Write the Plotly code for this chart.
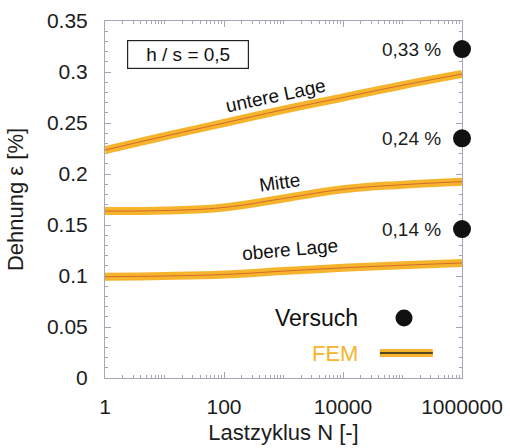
import plotly.graph_objects as go

# Data
cycles = [1, 10, 100, 1000, 10000, 100000, 1000000]
fem_untere = [0.2235, 0.237, 0.250, 0.263, 0.275, 0.287, 0.298]
fem_mitte = [0.1637, 0.1642, 0.1672, 0.1760, 0.1850, 0.1895, 0.1925]
fem_obere = [0.0993, 0.1000, 0.1015, 0.1048, 0.1080, 0.1105, 0.1128]
versuch_x = [1000000, 1000000, 1000000]
versuch_y = [0.3225, 0.235, 0.146]
versuch_labels = ["0,33 %", "0,24 %", "0,14 %"]
xtick_vals = [1, 100, 10000, 1000000]
xtick_text = ["1", "100", "10000", "1000000"]

ORANGE = "#F6B42C"
INNER = "#d26a2c"
FRAME = "#aaa4b8"
TXT = "#1c1c1c"
FONT = "Liberation Sans, Arial, sans-serif"

fig = go.Figure()
for ys in (fem_untere, fem_mitte, fem_obere):
    fig.add_trace(go.Scatter(x=cycles, y=ys, mode="lines",
                             line=dict(color=ORANGE, width=8, shape="spline", smoothing=1.2),
                             showlegend=False, hoverinfo="skip"))
    fig.add_trace(go.Scatter(x=cycles, y=ys, mode="lines",
                             line=dict(color=INNER, width=1, shape="spline", smoothing=1.2),
                             showlegend=False, hoverinfo="skip"))

fig.add_trace(go.Scatter(x=versuch_x, y=versuch_y, mode="markers",
                         marker=dict(color="#111111", size=18), cliponaxis=False, showlegend=False))

# Custom legend
fig.add_trace(go.Scatter(x=[106000], y=[0.0588], mode="markers",
                         marker=dict(color="#111111", size=17), showlegend=False))
fig.add_trace(go.Scatter(x=[41700, 324000], y=[0.0245, 0.0245], mode="lines",
                         line=dict(color=ORANGE, width=8), showlegend=False))
fig.add_trace(go.Scatter(x=[41700, 324000], y=[0.0245, 0.0245], mode="lines",
                         line=dict(color="#222", width=1.5), showlegend=False))
fig.add_annotation(x=4.29, y=0.0588, xref="x", yref="y", text="Versuch", showarrow=False,
                   xanchor="right", font=dict(size=23, color="#111", family=FONT))
fig.add_annotation(x=4.29, y=0.0245, xref="x", yref="y", text="FEM", showarrow=False,
                   xanchor="right", font=dict(size=22, color=ORANGE, family=FONT))

for lbl, yv in zip(versuch_labels, versuch_y):
    fig.add_annotation(x=5.68, y=yv, xref="x", yref="y", text=lbl, showarrow=False,
                       xanchor="right", font=dict(size=19, color=TXT, family=FONT))

fig.add_annotation(x=2.87, y=0.2765, text="untere Lage", showarrow=False, textangle=-12,
                   font=dict(size=19, color="#111", family=FONT))
fig.add_annotation(x=2.94, y=0.192, text="Mitte", showarrow=False, textangle=-8,
                   font=dict(size=19, color="#111", family=FONT))
fig.add_annotation(x=3.11, y=0.1255, text="obere Lage", showarrow=False, textangle=-5,
                   font=dict(size=19, color="#111", family=FONT))
fig.add_annotation(x=1.403, y=0.3167, text="h / s = 0,5", showarrow=False,
                   bordercolor="#222", borderwidth=1.2, borderpad=3, bgcolor="white",
                   width=114, height=21, font=dict(size=19, color="#111", family=FONT))

fig.update_layout(
    width=510, height=448, margin=dict(l=105, r=48, t=21, b=70),
    paper_bgcolor="white", plot_bgcolor="white",
    font=dict(family=FONT, color=TXT),
)
fig.update_xaxes(type="log", range=[0, 6], tickvals=xtick_vals, ticktext=xtick_text,
                 showgrid=False, zeroline=False, showline=True, linecolor=FRAME, linewidth=1,
                 mirror="allticks", ticks="inside", ticklen=6, tickcolor=FRAME,
                 layer="below traces", automargin=False, ticklabelstandoff=10,
                 minor=dict(ticks="inside", ticklen=3, tickcolor=FRAME, dtick="D1", showgrid=False),
                 tickfont=dict(size=21, color=TXT),
                 title=dict(text="Lastzyklus N [-]", font=dict(size=22, color=TXT), standoff=7))
fig.update_yaxes(range=[0, 0.35], dtick=0.05, showgrid=False, zeroline=False, showline=True,
                 linecolor=FRAME, linewidth=1, mirror="allticks", ticks="inside", ticklen=6,
                 tickcolor=FRAME, layer="below traces", automargin=False, ticklabelstandoff=12,
                 minor=dict(ticks="inside", ticklen=3, tickcolor=FRAME, dtick=0.01, showgrid=False),
                 tickfont=dict(size=21, color=TXT),
                 title=dict(text="Dehnung ε [%]", font=dict(size=22, color=TXT), standoff=17))

fig.write_html("out.html")
